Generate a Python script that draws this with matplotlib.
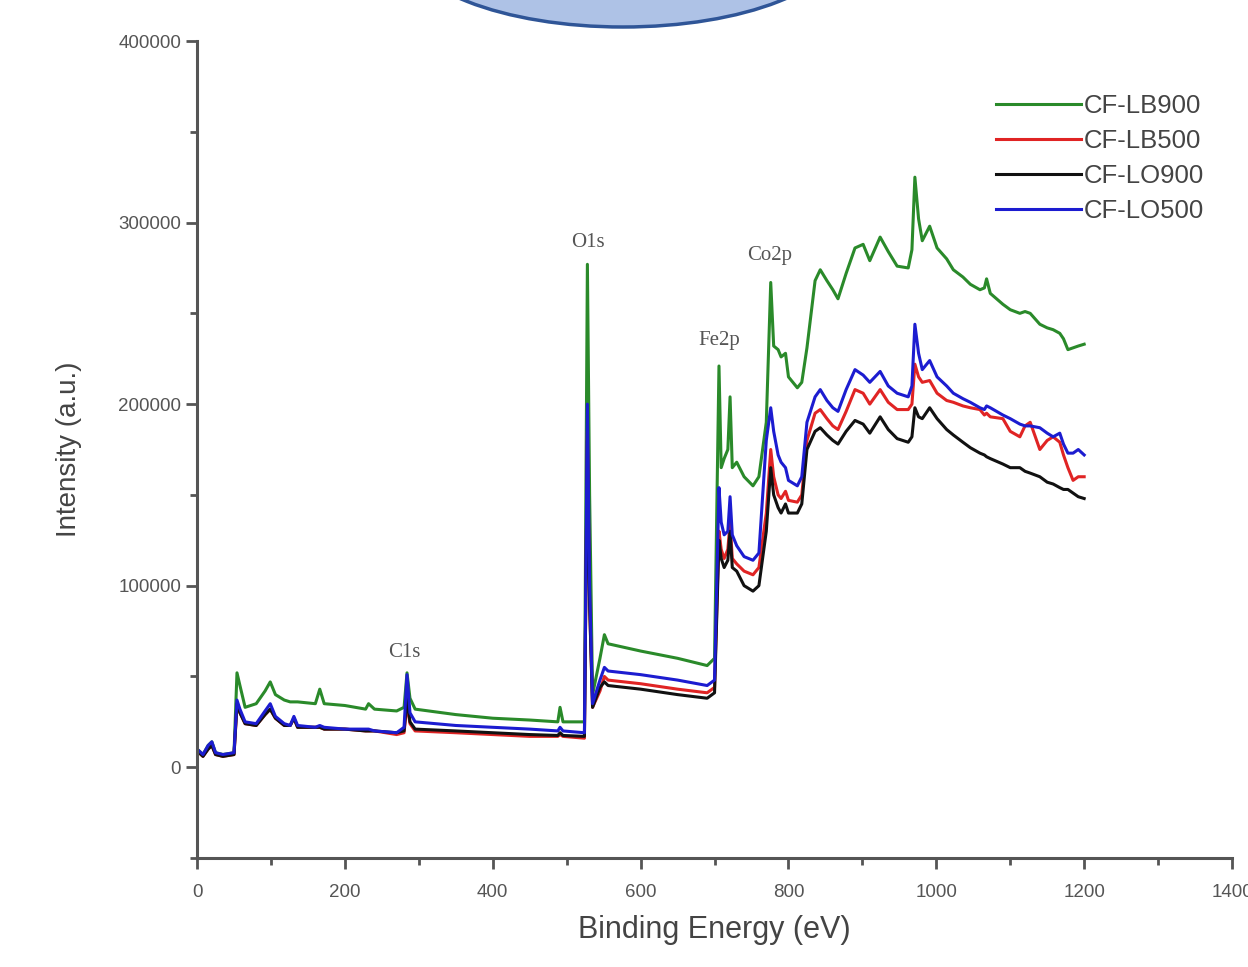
import numpy as np
import matplotlib.pyplot as plt
from matplotlib.patches import Ellipse
from matplotlib.ticker import MultipleLocator

# binding energy grid (eV) and intensities (x1000 counts)
energy = [0, 8, 15, 20, 25, 35, 50, 54, 58, 65, 80, 92, 99, 106, 118, 126, 131, 136, 160, 166,
          172, 200, 228, 232, 240, 270, 280, 284, 288, 295, 350, 400, 450, 488, 491, 495, 524, 528,
          531, 535, 545, 551, 556, 600, 650, 690, 700, 706, 709, 713, 718, 721, 724, 730, 740, 752,
          760, 770, 776, 780, 786, 790, 796, 800, 812, 818, 825, 836, 843, 852, 860, 867, 878, 890,
          901, 910, 924, 935, 947, 962, 967, 971, 976, 981, 991, 1001, 1014, 1023, 1036, 1046, 1059,
          1065, 1068, 1073, 1090, 1100, 1113, 1120, 1127, 1140, 1150, 1158, 1167, 1172, 1178, 1185,
          1192, 1200]

lb900 = [10, 7, 12, 14, 8, 7, 8, 52, 45, 33, 35, 42, 47, 40, 37, 36, 36, 36, 35, 43,
         35, 34, 32, 35, 32, 31, 33, 52, 38, 32, 29, 27, 26, 25, 33, 25, 25, 277,
         150, 40, 60, 73, 68, 64, 60, 56, 60, 221, 165, 170, 175, 204, 165, 168, 160, 155,
         160, 190, 267, 232, 230, 226, 228, 215, 209, 212, 231, 268, 274, 268, 263, 258, 272, 286,
         288, 279, 292, 284, 276, 275, 285, 325, 302, 290, 298, 286, 280, 274, 270, 266, 263,
         264, 269, 261, 255, 252, 250, 251, 250, 244, 242, 241, 239, 236, 230, 231,
         232, 233]
lb500 = [9, 6, 10, 12, 7, 6, 7, 34, 30, 24, 23, 29, 32, 27, 23, 23, 27, 22, 22, 22,
         21, 21, 20, 20, 20, 18, 19, 35, 24, 20, 19, 18, 17, 17, 18, 17, 16, 185,
         90, 33, 42, 50, 48, 46, 43, 41, 44, 130, 120, 115, 120, 135, 115, 112, 108, 106,
         110, 140, 175, 160, 150, 148, 152, 147, 146, 150, 180, 195, 197, 192, 188, 186, 196, 208,
         206, 200, 208, 201, 197, 197, 200, 222, 215, 212, 213, 206, 202, 201, 199, 198, 197,
         194, 195, 193, 192, 185, 182, 188, 190, 175, 180, 182, 179, 172, 165, 158,
         160, 160]
lo900 = [9, 6, 10, 12, 7, 6, 7, 35, 30, 24, 23, 29, 32, 27, 23, 23, 27, 22, 22, 22,
         21, 21, 20, 20, 20, 19, 20, 38, 25, 21, 20, 19, 18, 17.5, 19, 17.5, 17, 180,
         90, 33, 44, 47, 45, 43, 40, 38, 41, 125, 115, 110, 114, 130, 110, 108, 100, 97,
         100, 130, 165, 150, 143, 140, 145, 140, 140, 145, 175, 185, 187, 183, 180, 178, 185, 191,
         189, 184, 193, 186, 181, 179, 182, 198, 193, 192, 198, 192, 186, 183, 179, 176, 173,
         172, 171, 170, 167, 165, 165, 163, 162, 160, 157, 156, 154, 153, 153, 151,
         149, 148]
lo500 = [10, 7, 12, 14, 8, 7, 8, 37, 32, 25, 24, 31, 35, 28, 24, 23, 28, 23, 22, 23,
         22, 21, 21, 21, 20, 19, 22, 51, 30, 25, 23, 22, 21, 20, 22, 20, 19, 200,
         100, 35, 48, 55, 53, 51, 48, 45, 48, 154, 135, 128, 130, 149, 128, 122, 116, 114,
         118, 180, 198, 185, 172, 168, 165, 158, 155, 160, 190, 204, 208, 202, 198, 196, 208, 219,
         216, 212, 218, 210, 206, 204, 210, 244, 228, 219, 224, 215, 210, 206, 203, 201, 198,
         197, 199, 198, 194, 192, 189, 188, 188, 187, 184, 182, 184, 178, 173, 173,
         175, 172]

labels = ['CF-LB900', 'CF-LB500', 'CF-LO900', 'CF-LO500']
colors = ['#2a8a2a', '#e02424', '#111111', '#1c1cd0']

peak_names = ['C1s', 'O1s', 'Fe2p', 'Co2p']
peak_pos = [(281, 63000), (529, 289000), (707, 235000), (775, 282000)]

fig = plt.figure(figsize=(12.48, 9.67), dpi=100)
ax = fig.add_axes([0.1579, 0.1127, 0.8293, 0.8449])

for ys, lab, c in zip([lb900, lb500, lo900, lo500], labels, colors):
    ax.plot(energy, np.array(ys) * 1000, color=c, lw=2.2, label=lab)

for name, (px, py) in zip(peak_names, peak_pos):
    ax.text(px, py, name, ha='center', va='center', fontsize=15,
            family='Liberation Serif', color='#555555')

ax.set_xlim(0, 1400)
ax.set_ylim(-50000, 400000)
ax.xaxis.set_major_locator(MultipleLocator(200))
ax.xaxis.set_minor_locator(MultipleLocator(100))
ax.set_yticks([0, 100000, 200000, 300000, 400000])
ax.yaxis.set_minor_locator(MultipleLocator(50000))

for s in ['top', 'right']:
    ax.spines[s].set_visible(False)
for s in ['left', 'bottom']:
    ax.spines[s].set_linewidth(2.2)
    ax.spines[s].set_color('#555555')

ax.tick_params(which='major', length=8, width=2, color='#555555', labelsize=13.5,
               labelcolor='#555555')
ax.tick_params(which='minor', length=5, width=2, color='#555555')
for t in ax.get_xticklabels() + ax.get_yticklabels():
    t.set_family('Liberation Sans')
ax.tick_params(axis='x', pad=11)

ax.set_xlabel('Binding Energy (eV)', fontsize=22, family='Liberation Sans',
              color='#444444', labelpad=10)
ax.set_ylabel('Intensity (a.u.)', fontsize=20, family='Liberation Sans',
              color='#444444', labelpad=26)

leg = ax.legend(loc='upper right', bbox_to_anchor=(0.995, 0.963), frameon=False,
                prop={'family': 'Liberation Sans', 'size': 18.5}, handlelength=3.3,
                handletextpad=0.1, labelspacing=0.42)
for t in leg.get_texts():
    t.set_color('#444444')

# decorative ellipse cut off by the top edge
fig.patches.append(Ellipse((623 / 1248, 1 + 60 / 967), 440 / 1248, 174 / 967,
                           transform=fig.transFigure, facecolor='#aec2e6',
                           edgecolor='#2f5597', lw=2.5))

fig.savefig('out.png', dpi=100)
